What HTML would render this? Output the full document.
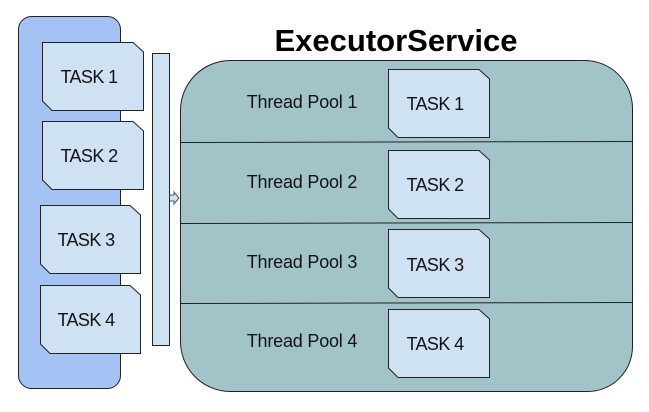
<!DOCTYPE html>
<html><head><style>html,body{margin:0;padding:0;background:#fff}</style></head><body>
<svg width="649" height="407" viewBox="0 0 649 407" xmlns="http://www.w3.org/2000/svg" font-family="Liberation Sans, sans-serif">
<rect x="18.5" y="16.5" width="102" height="372" rx="13" fill="#a4c2f4" stroke="#222" stroke-width="1"/>
<path d="M230,60.5 H585 A48,48 0 0 1 632.5,108 V346 A45,45 0 0 1 587,391.5 H230 A50,50 0 0 1 180.5,341 V110 A50,50 0 0 1 230,60.5 Z" fill="#a2c4c9" stroke="#222" stroke-width="1"/>
<line x1="180" y1="142.5" x2="632" y2="141.5" stroke="#222"/>
<line x1="180" y1="223.5" x2="632" y2="222.5" stroke="#222"/>
<line x1="180" y1="303.5" x2="632" y2="302.5" stroke="#222"/>
<rect x="152.5" y="53.5" width="17" height="292" fill="#cfe2f3" stroke="#222"/>
<path d="M170,195 h4 v-3 l5,6 l-5,6 v-3 h-4" fill="#cfe2f3" stroke="#555" stroke-width="1"/>
<g fill="#cfe2f3" stroke="#222" stroke-width="1">
<path d="M42.5,42.5 H133 L143.5,52 V110.5 H52 L42.5,101 Z"/>
<path d="M42.5,121.5 H133 L143.5,131 V189.5 H52 L42.5,180 Z"/>
<path d="M40.5,205.5 H130 L140.5,215 V273.5 H50 L40.5,264 Z"/>
<path d="M40.5,285.5 H130 L140.5,295 V353.5 H50 L40.5,344 Z"/>
<path d="M388.5,69.5 H479 L489.5,79 V137.5 H398 L388.5,128 Z"/>
<path d="M388.5,150.5 H479 L489.5,160 V218.5 H398 L388.5,209 Z"/>
<path d="M388.5,229.5 H479 L489.5,239 V297.5 H398 L388.5,288 Z"/>
<path d="M388.5,309.5 H479 L489.5,319 V377.5 H398 L388.5,368 Z"/>
</g>
<g font-size="18" fill="#111" text-anchor="middle" letter-spacing="-0.6">
<text x="89" y="83">TASK 1</text>
<text x="89" y="162">TASK 2</text>
<text x="86" y="246">TASK 3</text>
<text x="86" y="326">TASK 4</text>
<text x="435" y="110">TASK 1</text>
<text x="435" y="191">TASK 2</text>
<text x="435" y="271">TASK 3</text>
<text x="435" y="350">TASK 4</text>
</g>
<g font-size="18" fill="#111" text-anchor="middle" letter-spacing="-0.2">
<text x="302" y="108">Thread Pool 1</text>
<text x="302" y="188">Thread Pool 2</text>
<text x="302" y="268">Thread Pool 3</text>
<text x="302" y="347">Thread Pool 4</text>
</g>
<text x="396" y="51" font-size="31" font-weight="bold" text-anchor="middle" fill="#000">ExecutorService</text>
</svg>
</body></html>
